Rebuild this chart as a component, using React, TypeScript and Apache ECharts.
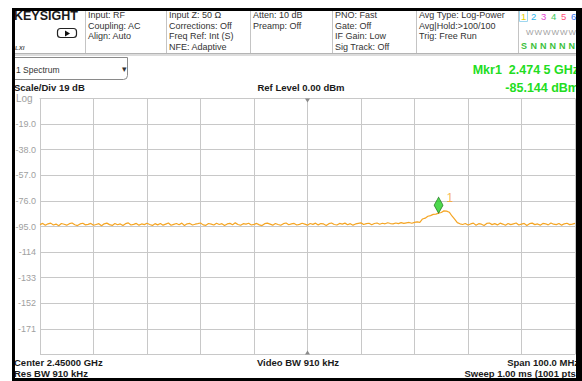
import React, { useEffect, useRef } from "react";
import * as echarts from "echarts";

// ---------------- data ----------------
const startFreqMHz = 2400;
const stopFreqMHz = 2500;
const stepMHz = 0.5;
const freqGridMHz = 10;
const refLevel = 0;
const bottomLevel = -190;
const scaleDiv = 19;

// trace (dBm), 2400.0 .. 2470.0 MHz
const traceLeft = [
  -93.6, -92.7, -94.1, -93.0, -92.5, -93.9, -93.2, -94.4, -92.8, -93.3,
  -94.0, -92.9, -92.4, -93.7, -94.3, -93.1, -92.6, -93.8, -93.4, -92.7,
  -94.1, -93.5, -92.9, -94.5, -93.0, -92.5, -93.6, -94.2, -92.8, -93.7,
  -93.1, -94.3, -92.9, -92.3, -93.9, -93.4, -92.7, -94.0, -93.1, -93.6,
  -92.6, -93.5, -94.2, -92.9, -93.8, -92.7, -94.0, -93.2, -92.4, -94.1,
  -93.4, -92.8, -93.7, -92.5, -94.3, -93.0, -92.7, -93.9, -93.3, -92.9,
  -92.4, -93.8, -94.1, -92.8, -93.2, -93.9, -92.6, -93.5, -92.9, -94.2,
  -93.1, -92.7, -93.7, -92.3, -93.5, -94.1, -92.9, -93.2, -92.6, -93.9,
  -93.4, -92.7, -93.8, -94.3, -92.9, -92.5, -93.2, -94.0, -92.8, -93.5,
  -94.1, -92.9, -92.4, -93.7, -93.1, -92.7, -93.9, -93.4, -92.6, -93.2,
  -94.0, -92.8, -93.4, -92.5, -93.8, -92.8, -93.1, -94.2, -92.9, -92.4,
  -93.5, -93.9, -92.7, -93.2, -92.5, -93.7, -92.9, -94.0, -93.1, -92.7,
  -92.3, -93.5, -92.9, -92.6, -93.7, -92.8, -92.4, -93.3, -92.6, -93.0,
  -92.2, -92.8, -93.0, -92.4, -92.9, -92.1, -92.7, -92.3, -92.0, -92.6,
  -91.9,
];
// 2470.5 .. 2478.5 MHz (signal bump)
const traceBump = [
  -91.6, -91.9, -89.4, -88.8, -87.4, -86.9, -86.0, -85.8, -85.1, -84.6,
  -83.4, -83.6, -84.4, -87.2, -89.6, -92.1, -93.0,
];
// 2479.0 .. 2500.0 MHz
const traceRight = [
  -93.5, -92.8, -93.9, -93.1, -92.5, -94.0, -92.9, -93.3, -94.2, -92.7,
  -92.4, -93.6, -92.9, -93.8, -92.5, -93.2, -94.1, -92.8, -93.6, -93.0,
  -92.4, -93.9, -93.2, -92.7, -94.2, -92.9, -92.5, -93.6, -93.1, -94.0,
  -92.7, -93.0, -93.8, -92.4, -93.3, -93.6, -92.8, -94.0, -93.0, -92.6,
  -93.6, -93.2, -92.7,
];

const markerFreqMHz = 2474.5;
const markerLevel = -85.144;
const markerLabel = "1";

const yTickLabels = ["-19.0", "-38.0", "-57.0", "-76.0", "-95.0", "-114", "-133", "-152", "-171"];

const header1 = ["Input: RF", "Coupling: AC", "Align: Auto"];
const header2 = ["Input Z: 50 \u03A9", "Corrections: Off", "Freq Ref: Int (S)", "NFE: Adaptive"];
const header3 = ["Atten: 10 dB", "Preamp: Off"];
const header4 = ["PNO: Fast", "Gate: Off", "IF Gain: Low", "Sig Track: Off"];
const header5 = ["Avg Type: Log-Power", "Avg|Hold:>100/100", "Trig: Free Run"];
const traceNumbers = ["1", "2", "3", "4", "5", "6"];
const traceNumberColors = ["#e6cf00", "#2ab4ec", "#e43fd0", "#3cc85a", "#ff4f7a", "#3a78f0"];
const traceTypes = ["W", "W", "W", "W", "W", "W"];
const traceDetectors = ["S", "N", "N", "N", "N", "N"];

const mkrFreqText = "Mkr1  2.474 5 GHz";
const mkrAmpText = "-85.144 dBm";
const scaleText = "Scale/Div 19 dB";
const refText = "Ref Level 0.00 dBm";
const centerText = "Center 2.45000 GHz";
const resBwText = "Res BW 910 kHz";
const vidBwText = "Video BW 910 kHz";
const spanText = "Span 100.0 MHz";
const sweepText = "Sweep 1.00 ms (1001 pts)";

// ---------------- component ----------------
const FF = '"Liberation Sans", Arial, Helvetica, sans-serif';

function txt(text: string, x: number, y: number, o: any = {}) {
  return {
    type: "text",
    x,
    y,
    z: 100,
    silent: true,
    style: {
      text,
      fontFamily: FF,
      fontSize: o.size ?? 9,
      fontWeight: o.bold ? "bold" : "normal",
      fontStyle: o.italic ? "italic" : "normal",
      fill: o.color ?? "#333",
      align: o.align ?? "left",
      verticalAlign: "middle",
    },
  };
}

export default function App() {
  const ref = useRef<HTMLDivElement>(null);

  useEffect(() => {
    if (!ref.current) return;
    const chart = echarts.init(ref.current, undefined, { renderer: "svg" });

    const levels = [...traceLeft, ...traceBump, ...traceRight];
    const traceData = levels.map((v, i) => [startFreqMHz + i * stepMHz, v]);

    const gridLeft = 40;
    const gridTop = 98.5;
    const gridW = 535;
    const gridH = 256;
    const cx = gridLeft + gridW / 2;

    const graphics: any[] = [];
    // header column separators
    [85, 166, 250, 332, 416, 518].forEach((x) =>
      graphics.push({ type: "line", z: 90, shape: { x1: x + 0.5, y1: 11, x2: x + 0.5, y2: 53 }, style: { stroke: "#c4c4c4", lineWidth: 1 } })
    );
    // header bottom band
    graphics.push({ type: "rect", z: 90, shape: { x: 12, y: 53, width: 570, height: 3 }, style: { fill: "#dcdcdc" } });
    graphics.push({ type: "line", z: 91, shape: { x1: 12, y1: 53.5, x2: 582, y2: 53.5 }, style: { stroke: "#b4b4b4", lineWidth: 1 } });
    // dropdown box
    graphics.push({
      type: "rect",
      z: 92,
      shape: { x: 13.5, y: 57.5, width: 114, height: 22, r: [0, 0, 4, 0] },
      style: { fill: "#fff", stroke: "#8a8a8a", lineWidth: 1 },
    });
    graphics.push(txt("1 Spectrum", 16, 69.5, { size: 8.5 }));
    graphics.push(txt("\u25BE", 122, 68.5, { size: 9, color: "#333" }));

    // KEYSIGHT
    graphics.push(txt("KEYSIGHT", 14, 16, { size: 12.5, bold: true, color: "#1a1a1a" }));
    graphics.push({
      type: "rect",
      z: 100,
      shape: { x: 57.5, y: 28.5, width: 19, height: 9, r: 3 },
      style: { fill: "#fff", stroke: "#222", lineWidth: 1.2 },
    });
    graphics.push({ type: "polygon", z: 101, shape: { points: [[65, 30.5], [65, 36.5], [70, 33.5]] }, style: { fill: "#111" } });
    graphics.push(txt("LXI", 15, 48, { size: 6, bold: true, italic: true, color: "#555" }));

    const lineYs = [15, 25.5, 36, 46.5];
    header1.forEach((t, i) => graphics.push(txt(t, 88, lineYs[i])));
    header2.forEach((t, i) => graphics.push(txt(t, 169, lineYs[i])));
    header3.forEach((t, i) => graphics.push(txt(t, 253, lineYs[i])));
    header4.forEach((t, i) => graphics.push(txt(t, 335, lineYs[i])));
    header5.forEach((t, i) => graphics.push(txt(t, 419, lineYs[i])));

    // trace status
    graphics.push({ type: "rect", z: 99, shape: { x: 519.5, y: 9.5, width: 8, height: 12 }, style: { fill: "none", stroke: "#9fd7ef", lineWidth: 1 } });
    traceNumbers.forEach((t, i) =>
      graphics.push(txt(t, 521 + i * 10, 16, { size: 9.5, color: traceNumberColors[i] }))
    );
    traceTypes.forEach((t, i) => graphics.push(txt(t, 526 + i * 8.5, 32, { size: 8, color: "#a0a0a0" })));
    traceDetectors.forEach((t, i) =>
      graphics.push(txt(t, 521 + i * 9.5, 46, { size: 9, bold: true, color: "#3cbf3c" }))
    );

    // upper labels
    graphics.push(txt(scaleText, 14, 87.5, { size: 9.5, bold: true, color: "#1a1a1a" }));
    graphics.push(txt(refText, 301, 87.5, { size: 9.5, bold: true, color: "#1a1a1a", align: "center" }));
    graphics.push(txt("Log", 16, 98, { size: 10, color: "#a0a0a0" }));
    graphics.push(txt(mkrFreqText, 579, 69.5, { size: 12.5, bold: true, color: "#22dd22", align: "right" }));
    graphics.push(txt(mkrAmpText, 579, 87.5, { size: 12.5, bold: true, color: "#22dd22", align: "right" }));

    // reference triangles
    graphics.push({ type: "polygon", z: 95, shape: { points: [[cx - 2.5, gridTop], [cx + 2.5, gridTop], [cx, gridTop + 4]] }, style: { fill: "#8a8a8a" } });
    graphics.push({ type: "polygon", z: 95, shape: { points: [[cx - 2.5, gridTop + gridH], [cx + 2.5, gridTop + gridH], [cx, gridTop + gridH - 4]] }, style: { fill: "#8a8a8a" } });

    // bottom labels
    graphics.push(txt(centerText, 14, 362, { size: 9.5, bold: true, color: "#1a1a1a" }));
    graphics.push(txt(resBwText, 14, 373.5, { size: 9.5, bold: true, color: "#1a1a1a" }));
    graphics.push(txt(vidBwText, 298, 362, { size: 9.5, bold: true, color: "#1a1a1a", align: "center" }));
    graphics.push(txt(spanText, 579, 362, { size: 9.5, bold: true, color: "#1a1a1a", align: "right" }));
    graphics.push(txt(sweepText, 579, 373.5, { size: 9.5, bold: true, color: "#1a1a1a", align: "right" }));

    // black frame
    graphics.push({ type: "rect", z: 200, shape: { x: 12, y: 8, width: 570, height: 3 }, style: { fill: "#000" } });
    graphics.push({ type: "rect", z: 200, shape: { x: 12, y: 8, width: 3, height: 373 }, style: { fill: "#000" } });
    graphics.push({ type: "rect", z: 200, shape: { x: 576, y: 8, width: 6, height: 373 }, style: { fill: "#000" } });
    graphics.push({ type: "rect", z: 200, shape: { x: 12, y: 378, width: 570, height: 3 }, style: { fill: "#000" } });

    chart.setOption({
      animation: false,
      backgroundColor: "#fff",
      grid: { left: gridLeft, top: gridTop, width: gridW, height: gridH, containLabel: false },
      xAxis: {
        type: "value",
        min: startFreqMHz,
        max: stopFreqMHz,
        interval: freqGridMHz,
        axisLabel: { show: false },
        axisTick: { show: false },
        axisLine: { show: true, lineStyle: { color: "#c8c8c8", width: 1 } },
        splitLine: { show: true, lineStyle: { color: "#c8c8c8", width: 1 } },
      },
      yAxis: {
        type: "value",
        min: bottomLevel,
        max: refLevel,
        interval: scaleDiv,
        axisTick: { show: false },
        axisLine: { show: true, lineStyle: { color: "#c8c8c8", width: 1 } },
        splitLine: { show: true, lineStyle: { color: "#c8c8c8", width: 1 } },
        axisLabel: {
          margin: 4,
          color: "#a0a0a0",
          fontSize: 9,
          fontFamily: FF,
          formatter: (v: number) => {
            const idx = Math.round(-v / scaleDiv) - 1;
            return yTickLabels[idx] ?? "";
          },
        },
      },
      series: [
        {
          type: "line",
          data: traceData,
          showSymbol: false,
          symbol: "none",
          lineStyle: { color: "#f5a524", width: 1.2 },
          z: 3,
        },
        {
          type: "scatter",
          data: [[markerFreqMHz, markerLevel]],
          symbol: "diamond",
          symbolSize: [9, 16],
          symbolOffset: [0, -8],
          itemStyle: { color: "#22d022", borderColor: "#1b6f1b", borderWidth: 0.8 },
          label: {
            show: true,
            formatter: markerLabel,
            position: "right",
            distance: 3,
            offset: [0, -7],
            color: "#f5a524",
            fontSize: 12,
            fontFamily: FF,
          },
          z: 5,
        },
      ],
      graphic: graphics,
    });

    return () => chart.dispose();
  }, []);

  return (
    <div
      ref={ref}
      style={{ position: "fixed", left: 0, top: 0, width: 582, height: 381, background: "#fff" }}
    />
  );
}
